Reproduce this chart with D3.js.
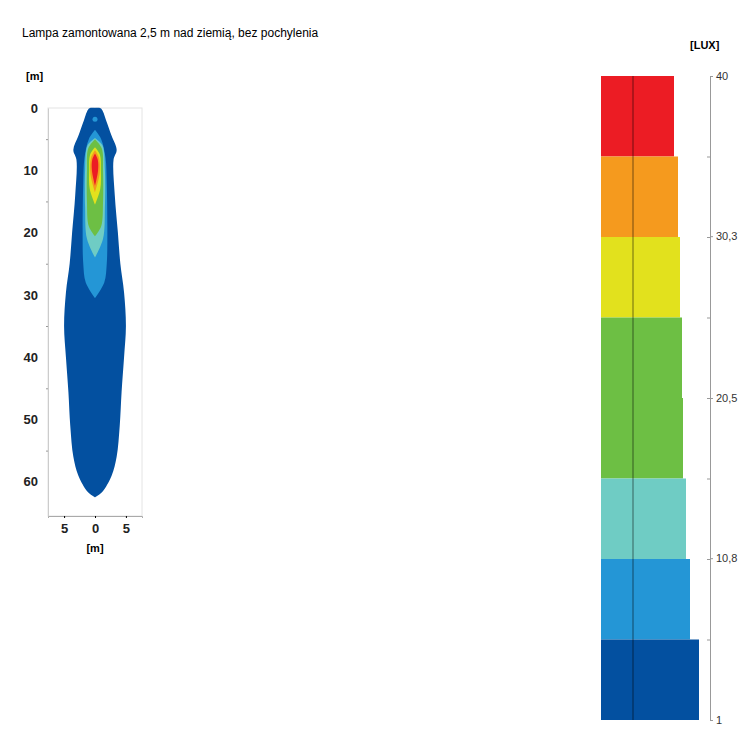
<!DOCTYPE html>
<html><head><meta charset="utf-8">
<script src="https://cdn.jsdelivr.net/npm/d3@7"></script>
<style>body{margin:0;background:#fff}svg{font-family:"Liberation Sans",Arial,sans-serif}</style>
</head><body><svg id="c" width="751" height="751"></svg>
<script>
// contour profiles: [distance m, half-width m]
const darkBlue=[[0,0],[0.05,0.9],[0.6,1.3],[2,1.8],[4.5,2.7],[6.7,3.5],[8.3,3],[14,3.2],[20,3.7],[25,4.1],[29.6,4.7],[35,5],[40,4.7],[45.6,4.3],[51,4],[56,3.5],[59,2.7],[61.6,1.2],[62.5,0]];
const blue=[[3.5,0],[5,1.0],[8,1.7],[12,1.9],[20,2.0],[25,1.9],[28,1.5],[30.5,0]];
const teal=[[4.8,0],[6,1.2],[10,1.6],[16,1.6],[21,1.3],[24,0]];
const green=[[5,0],[6.5,1.1],[10,1.3],[15,1.3],[19,1.0],[20.6,0]];
const yellow=[[6.3,0],[7.5,0.8],[10,0.95],[13,0.85],[15.5,0]];
const orange=[[6.8,0],[8,0.65],[10.5,0.75],[13.5,0]];
const red=[[7.3,0],[8.3,0.45],[10,0.5],[12.5,0]];
const contourColors=["#0350a0","#2496d6","#6fccc4","#6dbf44","#e2e11d","#f59a1e","#ec1c24"];
const yTicks=[0,10,20,30,40,50,60];
const xTicks=[-5,0,5];
// legend
const legendColors=["#ec1c24","#f59a1e","#e2e11d","#6dbf44","#6dbf44","#6fccc4","#2496d6","#0350a0"];
const legendWidths=[73,77,79,81,82,85,89,98];
const luxTicks=[40,30.3,20.5,10.8,1];
const luxLabels=["40","30,3","20,5","10,8","1"];

const svg=d3.select("#c");
svg.append("text").attr("x",22).attr("y",37).attr("font-size",12).text("Lampa zamontowana 2,5 m nad ziemią, bez pochylenia");

const x=d3.scaleLinear().domain([-7.6,7.6]).range([48,142]);
const y=d3.scaleLinear().domain([0,65.5]).range([108,516]);
const g=svg.append("g");
g.append("rect").attr("x",48).attr("y",108).attr("width",94).attr("height",408).attr("fill","none").attr("stroke","#e4e4e4");
const area=d3.area().y(d=>y(d[0])).x0(d=>x(-d[1])).x1(d=>x(d[1])).curve(d3.curveCatmullRom);
[darkBlue,blue,teal,green,yellow,orange,red].forEach((p,i)=>g.append("path").attr("d",area(p)).attr("fill",contourColors[i]));
g.append("circle").attr("cx",x(0)).attr("cy",y(1.8)).attr("r",2.5).attr("fill","#2496d6");
const ya=g.append("g").attr("transform","translate(48,0)").call(d3.axisLeft(y).tickValues(yTicks).tickSize(0).tickPadding(10));
ya.select(".domain").attr("stroke","#ccc");
ya.selectAll("text").attr("font-size",13).attr("font-weight","bold").attr("fill","#222");
g.append("g").attr("transform","translate(48,0)").call(d3.axisLeft(y).tickValues([5,15,25,35,45,55]).tickSize(2).tickFormat("")).call(s=>s.select(".domain").remove()).selectAll("line").attr("stroke","#999");
const xa=g.append("g").attr("transform","translate(0,516)").call(d3.axisBottom(x).tickValues(xTicks).tickSize(2).tickPadding(6).tickFormat(d=>Math.abs(d)));
xa.select(".domain").attr("stroke","#aaa");
xa.selectAll("text").attr("font-size",13).attr("font-weight","bold").attr("fill","#222");
svg.append("text").attr("x",26).attr("y",80).attr("font-size",11).attr("font-weight","bold").text("[m]");
svg.append("text").attr("x",95).attr("y",552).attr("text-anchor","middle").attr("font-size",11).attr("font-weight","bold").text("[m]");

// legend
const ly=d3.scaleLinear().domain([40,1]).range([76,720]);
const band=d3.scaleBand().domain(d3.range(8)).range([76,720]);
const lg=svg.append("g");
lg.selectAll("rect").data(legendColors).join("rect").attr("x",601).attr("y",(d,i)=>band(i)).attr("width",(d,i)=>legendWidths[i]).attr("height",band.bandwidth()).attr("fill",d=>d);
lg.append("line").attr("x1",633).attr("x2",633).attr("y1",76).attr("y2",720).attr("stroke","#000").attr("stroke-opacity",0.35).attr("stroke-width",1.5);
const la=lg.append("g").attr("transform","translate(710,0)").call(d3.axisRight(ly).tickValues(luxTicks).tickSize(3).tickFormat((d,i)=>luxLabels[i]));
la.select(".domain").attr("stroke","#999");
la.selectAll("line").attr("stroke","#999");
la.selectAll("text").attr("font-size",11).attr("fill","#333");
lg.append("g").attr("transform","translate(710,0)").call(d3.axisLeft(ly).tickValues(d3.range(1,8).map(i=>ly.invert(band(i)))).tickSize(3).tickFormat("")).call(s=>s.select(".domain").remove()).selectAll("line").attr("stroke","#999");
svg.append("text").attr("x",690).attr("y",49).attr("font-size",11).attr("font-weight","bold").text("[LUX]");
</script></body></html>
